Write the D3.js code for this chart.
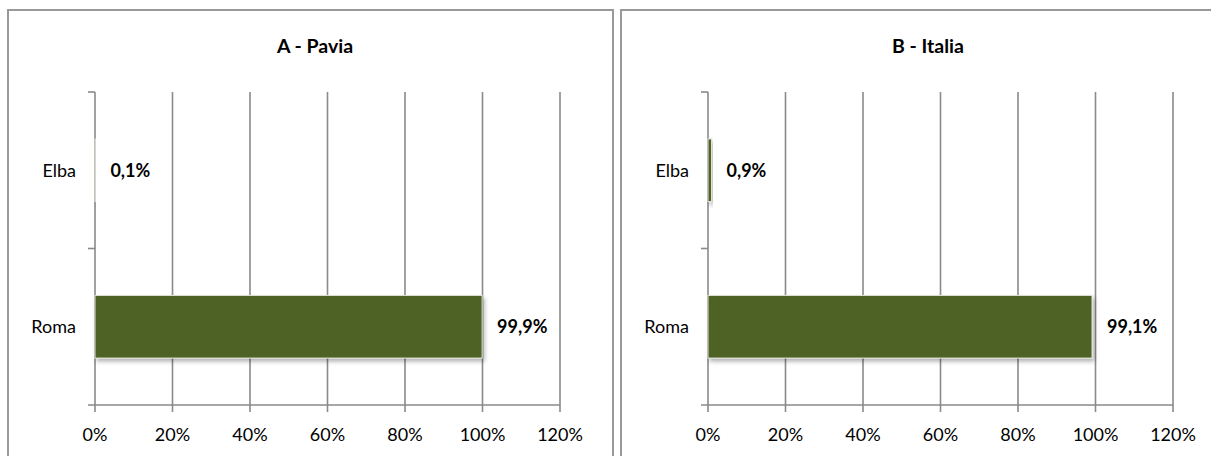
<!DOCTYPE html>
<html>
<head>
<meta charset="utf-8">
<script src="https://cdn.jsdelivr.net/npm/d3@7"></script>
<style>
  html, body { margin: 0; padding: 0; background: #fff; }
  svg { display: block; }
  text { font-family: Lato, "Open Sans", sans-serif; fill: #000; }
</style>
</head>
<body>
<svg id="chart" width="1211" height="456"></svg>
<script>
// ---- data ----
const categories = ["Elba", "Roma"];
const panelTitles = ["A - Pavia", "B - Italia"];
const paviaValues = [0.1, 99.9];   // Elba, Roma (%)
const italiaValues = [0.9, 99.1];  // Elba, Roma (%)
const tickValues = [0, 20, 40, 60, 80, 100, 120];

const panels = [
  { title: panelTitles[0], values: paviaValues },
  { title: panelTitles[1], values: italiaValues }
];

const svg = d3.select("#chart");

const defs = svg.append("defs");
const f = defs.append("filter").attr("id", "shadow")
  .attr("x", "-10%").attr("y", "-20%").attr("width", "130%").attr("height", "160%");
f.append("feDropShadow").attr("dx", 2).attr("dy", 3).attr("stdDeviation", 2)
  .attr("flood-color", "#000").attr("flood-opacity", 0.3);

const panelW = 606, panelOffset = 613;
const plot = { left: 88, top: 92, width: 465, height: 313 }; // relative to panel origin x=7

const x = d3.scaleLinear().domain([0, 120]).range([0, plot.width]);
const y = d3.scaleBand().domain(categories).range([0, plot.height])
  .paddingInner(0.6).paddingOuter(0.3);
const fmt = v => d3.format(".1f")(v).replace(".", ",") + "%";

panels.forEach((p, i) => {
  const px = 7 + i * panelOffset;
  const g = svg.append("g").attr("transform", `translate(${px},0)`);

  // panel border (top, left, right)
  g.append("path")
    .attr("d", `M1,460 V10 H${panelW} V460`)
    .attr("fill", "none").attr("stroke", "#999").attr("stroke-width", 2);

  // title
  g.append("text")
    .attr("x", 308).attr("y", 53)
    .attr("text-anchor", "middle")
    .attr("font-size", 19.5).attr("font-weight", "bold")
    .text(p.title);

  const pg = g.append("g").attr("transform", `translate(${plot.left},${plot.top})`);

  // vertical gridlines + ticks
  pg.append("g").selectAll("line").data(tickValues.slice(1)).join("line")
    .attr("x1", d => x(d)).attr("x2", d => x(d))
    .attr("y1", 0).attr("y2", plot.height + 7)
    .attr("stroke", "#8a8a8a").attr("stroke-width", 1.6);

  // x axis line
  pg.append("line")
    .attr("x1", -7).attr("x2", x(120))
    .attr("y1", plot.height).attr("y2", plot.height)
    .attr("stroke", "#8a8a8a").attr("stroke-width", 1.6);

  // category axis line
  pg.append("line")
    .attr("x1", 0).attr("x2", 0).attr("y1", 0).attr("y2", plot.height + 7)
    .attr("stroke", "#8a8a8a").attr("stroke-width", 1.6);
  // category tick marks (boundaries)
  const bounds = [0, plot.height / 2];
  pg.append("g").selectAll("line").data(bounds).join("line")
    .attr("x1", -7).attr("x2", 0).attr("y1", d => d).attr("y2", d => d)
    .attr("stroke", "#8a8a8a").attr("stroke-width", 1.6);

  // x tick labels
  pg.append("g").selectAll("text").data(tickValues).join("text")
    .attr("x", d => x(d)).attr("y", plot.height + 36)
    .attr("text-anchor", "middle").attr("font-size", 18)
    .text(d => d + "%");

  // category labels
  pg.append("g").selectAll("text").data(categories).join("text")
    .attr("x", -19).attr("y", d => y(d) + y.bandwidth() / 2 + 6.5)
    .attr("text-anchor", "end").attr("font-size", 18)
    .text(d => d);

  // bars
  pg.append("g").selectAll("rect").data(categories).join("rect")
    .attr("x", 0).attr("y", d => y(d))
    .attr("width", (d, j) => x(p.values[j]))
    .attr("height", y.bandwidth())
    .attr("fill", "#4f6228")
    .attr("stroke", "#dfe3d6").attr("stroke-width", 1)
    .attr("filter", "url(#shadow)");

  // value labels
  pg.append("g").selectAll("text").data(categories).join("text")
    .attr("x", (d, j) => x(p.values[j]) + 15)
    .attr("y", d => y(d) + y.bandwidth() / 2 + 6.5)
    .attr("font-size", 18).attr("font-weight", "bold")
    .text((d, j) => fmt(p.values[j]));
});
</script>
</body>
</html>
